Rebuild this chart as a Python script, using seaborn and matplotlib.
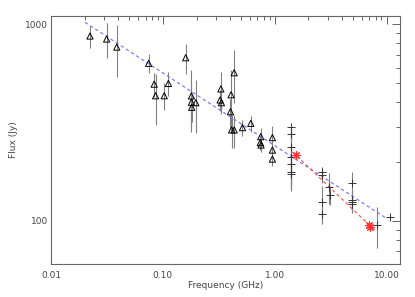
import numpy as np
import pandas as pd
import matplotlib
matplotlib.use("Agg")
import matplotlib.pyplot as plt
import seaborn as sns
from matplotlib.ticker import FixedLocator, FixedFormatter, LogLocator, NullFormatter

# --- data ---
tri_freq = [0.0223, 0.0314, 0.0387, 0.0745, 0.0836, 0.0861, 0.1028, 0.112, 0.160,
            0.180, 0.180, 0.181, 0.197, 0.330, 0.325, 0.334, 0.434, 0.407, 0.402,
            0.411, 0.434, 0.515, 0.611, 0.750, 0.743, 0.755, 0.953, 0.953, 0.953]
tri_flux = [872, 842, 766, 633, 496, 433, 433, 500, 676,
            432, 401, 378, 399, 469, 412, 399, 567, 438, 359,
            290, 290, 298, 313, 268, 250, 243, 265, 229, 206]
tri_err = [110, 170, 225, 70, 71, 126, 68, 70, 118,
           150, 100, 60, 120, 100, 50, 50, 170, 150, 60,
           55, 55, 29, 29, 30, 20, 20, 40, 20, 15]

crs_freq = [1.41, 1.41, 1.41, 1.41, 1.41, 1.41, 1.41,
            2.67, 2.67, 2.67, 2.67, 3.05, 3.14,
            4.94, 4.94, 4.94, 4.94, 8.26, 10.8]
crs_flux = [299, 275, 236, 212, 195, 178, 172,
            178, 171, 124, 108, 148, 135,
            156, 128, 125, 121, 95, 104]
crs_err = [8, 20, 60, 70, 50, 30, 20,
           10, 15, 27, 12, 26, 15,
           22, 15, 15, 12, 22, 3]

star_freq = [1.54, 6.95, 7.15]
star_flux = [216, 95, 93]

blue_freq = [0.0201, 9.94]
blue_flux = [1024, 103]
red_freq = [1.44, 8.09]
red_flux = [224, 88]

x_ticks = [0.01, 0.1, 1.0, 10.0]
x_ticklabels = ["0.01", "0.10", "1.00", "10.00"]
y_ticks = [100, 1000]
y_ticklabels = ["100", "1000"]

# --- figure ---
sns.set_style("white")
plt.rcParams['font.family'] = ['DejaVu Sans']
fig = plt.figure(figsize=(4.15, 2.97), dpi=100)
ax = fig.add_axes([0.123, 0.111, 0.841, 0.835])
ax.set_xscale("log")
ax.set_yscale("log")

ecol = "#808080"
ax.errorbar(tri_freq, tri_flux, yerr=tri_err, fmt="none", ecolor=ecol, elinewidth=0.8, capsize=0, zorder=1)
ax.errorbar(crs_freq, crs_flux, yerr=crs_err, fmt="none", ecolor=ecol, elinewidth=0.8, capsize=0, zorder=1)

lines = pd.concat([
    pd.DataFrame({"f": blue_freq, "s": blue_flux, "fit": "all"}),
    pd.DataFrame({"f": red_freq, "s": red_flux, "fit": "high"}),
])
sns.lineplot(data=lines, x="f", y="s", hue="fit", palette={"all": "#7070ff", "high": "#ff4a4a"},
             linestyle=(0, (3, 2.5)), linewidth=0.8, legend=False, ax=ax, zorder=2)

tri = pd.DataFrame({"f": tri_freq, "s": tri_flux})
sns.scatterplot(data=tri, x="f", y="s", marker="^", s=20, facecolor="none",
                edgecolor="black", linewidth=0.7, ax=ax, zorder=3)
crs = pd.DataFrame({"f": crs_freq, "s": crs_flux})
sns.scatterplot(data=crs, x="f", y="s", marker="+", s=32, color="#333333",
                linewidth=0.7, ax=ax, zorder=3)
st = pd.DataFrame({"f": star_freq, "s": star_flux})
sns.scatterplot(data=st, x="f", y="s", marker=(8, 2, 0), s=30, color="#ff3030",
                linewidth=0.8, edgecolor="#ff3030", ax=ax, zorder=4)

ax.set_xlim(0.01, 13.2)
ax.set_ylim(60.2, 1102)

ax.xaxis.set_major_locator(FixedLocator(x_ticks))
ax.xaxis.set_major_formatter(FixedFormatter(x_ticklabels))
ax.xaxis.set_minor_locator(LogLocator(base=10, subs=np.arange(2, 10)))
ax.xaxis.set_minor_formatter(NullFormatter())
ax.yaxis.set_major_locator(FixedLocator(y_ticks))
ax.yaxis.set_major_formatter(FixedFormatter(y_ticklabels))
ax.yaxis.set_minor_locator(LogLocator(base=10, subs=np.arange(2, 10)))
ax.yaxis.set_minor_formatter(NullFormatter())

gray = "#666666"
for sp in ax.spines.values():
    sp.set_color(gray)
    sp.set_linewidth(0.8)
ax.tick_params(which="both", direction="in", top=True, right=True, color=gray,
               labelsize=6.5, labelcolor="#444444", width=0.7)
ax.tick_params(which="major", length=6)
ax.tick_params(which="minor", length=3)
ax.tick_params(axis="x", which="major", pad=5)
ax.tick_params(axis="y", which="major", pad=2)

ax.set_xlabel("Frequency (GHz)", fontsize=6.5, color="#444444", labelpad=1)
ax.set_ylabel("Flux (Jy)", fontsize=6.5, color="#444444", labelpad=5)

fig.savefig("out.png", dpi=100)
